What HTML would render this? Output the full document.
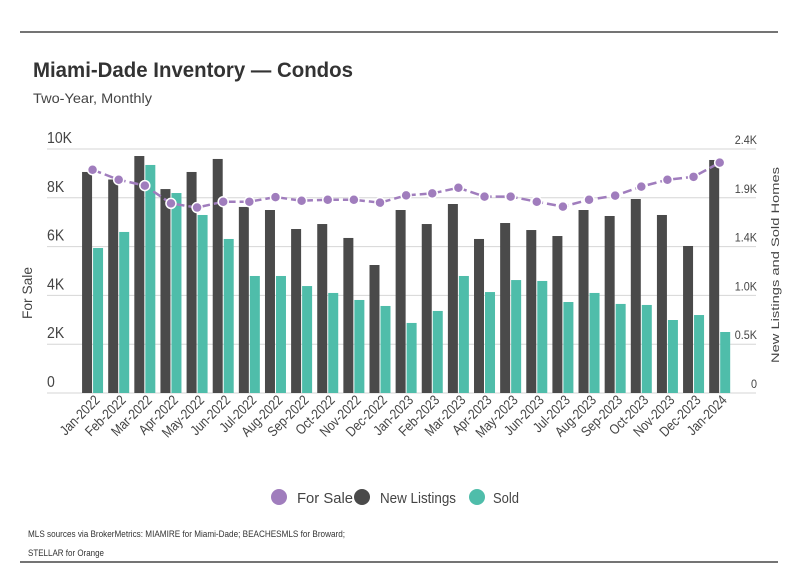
<!DOCTYPE html>
<html><head><meta charset="utf-8"><style>
body{margin:0;background:#fff;width:798px;height:575px;overflow:hidden;font-family:"Liberation Sans",sans-serif;}
svg text{font-family:"Liberation Sans",sans-serif;}
</style></head><body>
<svg id="chart" width="798" height="575" xmlns="http://www.w3.org/2000/svg">
<line x1="20" y1="32" x2="778" y2="32" stroke="#222" stroke-width="1.2"/>
<line x1="20" y1="562" x2="778" y2="562" stroke="#222" stroke-width="1.2"/>
<text x="33" y="77" font-size="21" font-weight="bold" fill="#333" textLength="320" lengthAdjust="spacingAndGlyphs">Miami-Dade Inventory — Condos</text>
<text x="33" y="103" font-size="14" fill="#444" textLength="119" lengthAdjust="spacingAndGlyphs">Two-Year, Monthly</text>
<g id="grid"></g><g id="bars"></g><g id="line"></g><g id="axes"></g>
<text transform="translate(32,293) rotate(-90)" text-anchor="middle" font-size="14" fill="#444" textLength="52" lengthAdjust="spacingAndGlyphs">For Sale</text>
<text transform="translate(779,265) rotate(-90)" text-anchor="middle" font-size="11" fill="#444" textLength="196" lengthAdjust="spacingAndGlyphs">New Listings and Sold Homes</text>
<g>
<g><circle cx="279" cy="497" r="8" fill="#a07dbd"/><text x="297" y="503" font-size="15" fill="#444" textLength="56" lengthAdjust="spacingAndGlyphs">For Sale</text></g>
<g><circle cx="362" cy="497" r="8" fill="#4a4a4a"/><text x="380" y="503" font-size="15" fill="#444" textLength="76" lengthAdjust="spacingAndGlyphs">New Listings</text></g>
<g><circle cx="477" cy="497" r="8" fill="#4fbdaa"/><text x="493" y="503" font-size="15" fill="#444" textLength="26" lengthAdjust="spacingAndGlyphs">Sold</text></g>
</g>
<text x="28" y="537" font-size="9" fill="#333" textLength="317" lengthAdjust="spacingAndGlyphs">MLS sources via BrokerMetrics: MIAMIRE for Miami-Dade; BEACHESMLS for Broward;</text>
<text x="28" y="556" font-size="9" fill="#333" textLength="76" lengthAdjust="spacingAndGlyphs">STELLAR for Orange</text>
</svg>
<script>
const months=["Jan-2022","Feb-2022","Mar-2022","Apr-2022","May-2022","Jun-2022","Jul-2022","Aug-2022","Sep-2022","Oct-2022","Nov-2022","Dec-2022","Jan-2023","Feb-2023","Mar-2023","Apr-2023","May-2023","Jun-2023","Jul-2023","Aug-2023","Sep-2023","Oct-2023","Nov-2023","Dec-2023","Jan-2024"];
const forSale=[9150,8740,8500,7770,7600,7840,7840,8030,7880,7920,7920,7800,8100,8180,8410,8050,8050,7840,7640,7920,8090,8460,8740,8860,9440];
const newListings=[2174,2100,2331,2006,2174,2302,1830,1800,1613,1662,1525,1259,1800,1662,1859,1515,1672,1603,1544,1800,1741,1908,1751,1446,2292];
const sold=[1426,1584,2243,1967,1751,1515,1151,1151,1052,984,915,856,689,807,1151,993,1111,1102,895,984,876,866,718,767,600];
const leftTicks=[0,2000,4000,6000,8000,10000];
const leftTickLabels=["0","2K","4K","6K","8K","10K"];
const rightTicks=[0,480,960,1440,1920,2400];
const rightTickLabels=["0","0.5K","1.0K","1.4K","1.9K","2.4K"];
const NS="http://www.w3.org/2000/svg";
const top0=149,bot=393,x0=79.5,band=26.13;
const yL=v=>bot-v/10000*(bot-top0);
const yR=v=>bot-v/2400*(bot-top0);
const xC=i=>x0+band*(i+0.5);
function mk(tag,attrs,parent){const e=document.createElementNS(NS,tag);for(const k in attrs)e.setAttribute(k,attrs[k]);document.getElementById(parent).appendChild(e);return e;}
leftTicks.forEach((t,i)=>{
 const l=mk('line',{x1:47,x2:756,y1:yL(t),y2:yL(t),stroke:'#d6d6d6','stroke-width':1},'grid');
 
 
 const tx=mk('text',{transform:`translate(47,${yL(t)-6}) scale(0.88,1)`,'font-size':16,fill:'#444'},'axes');tx.textContent=leftTickLabels[i];
 
 
});
rightTicks.forEach((t,i)=>{
 const tx=mk('text',{transform:`translate(757,${yR(t)-5}) scale(0.9,1)`,'font-size':12,fill:'#444','text-anchor':'end'},'axes');tx.textContent=rightTickLabels[i];
 
 
});
months.forEach((m,i)=>{
 const c=xC(i);
 const b1=mk('rect',{x:c-10.5,y:yR(newListings[i]),width:10,height:bot-yR(newListings[i]),fill:'#4a4a4a'},'bars');
 
 
 const b2=mk('rect',{x:c+0.5,y:yR(sold[i]),width:10,height:bot-yR(sold[i]),fill:'#4fbdaa'},'bars');
 
 
 const tx=mk('text',{transform:`translate(${c+8},${401}) rotate(-45) scale(0.85,1)`,'text-anchor':'end','font-size':14,fill:'#444'},'axes');tx.textContent=m;
 
 
});
const pts=forSale.map((v,i)=>xC(i)+','+yL(v)).join(' ');
const pl=mk('polyline',{points:pts,fill:'none',stroke:'#a07dbd','stroke-width':2.5,'stroke-dasharray':'9,4'},'line');


forSale.forEach((v,i)=>{
 const p=mk('circle',{cx:xC(i),cy:yL(v),r:5,fill:'#a07dbd',stroke:'#fff','stroke-width':1.5},'line');
 
 
});
</script>
</body></html>
